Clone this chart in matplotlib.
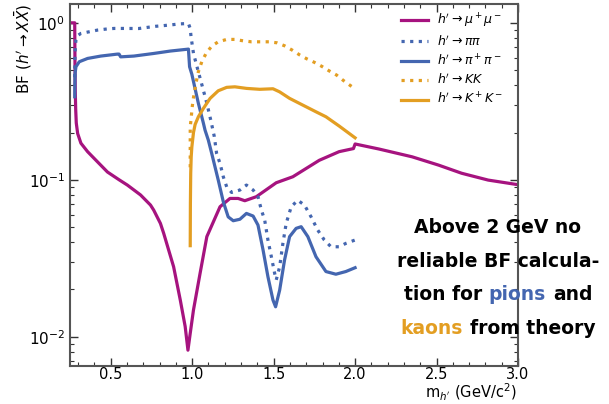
import matplotlib
matplotlib.use("Agg")
import matplotlib.pyplot as plt
from matplotlib.ticker import MultipleLocator, LogLocator
from matplotlib.offsetbox import TextArea, HPacker, VPacker, AnchoredOffsetbox

# ---- data ----
mumu_x = [0.25, 0.279, 0.2805, 0.2825, 0.285, 0.2885, 0.297, 0.317, 0.358, 0.419, 0.48, 0.551, 0.602,
          0.683, 0.744, 0.764, 0.805, 0.825, 0.886, 0.927, 0.957, 0.974, 0.988, 1.008, 1.049,
          1.09, 1.171, 1.232, 1.282, 1.323, 1.394, 1.516, 1.618, 1.78, 1.902, 1.99, 2.0,
          2.146, 2.35, 2.512, 2.654, 2.817, 3.0]
mumu_y = [1.0, 1.0, 0.55, 0.36, 0.28, 0.23, 0.197, 0.171, 0.151, 0.130, 0.112, 0.100, 0.0925,
          0.080, 0.069, 0.064, 0.0527, 0.0456, 0.0279, 0.0171, 0.0116, 0.0082, 0.0105, 0.0148, 0.0255,
          0.0434, 0.0673, 0.076, 0.076, 0.0735, 0.078, 0.0957, 0.1045, 0.133, 0.151, 0.158, 0.169,
          0.157, 0.140, 0.124, 0.110, 0.0995, 0.093]

pipi_x = [0.279, 0.2805, 0.2835, 0.2866, 0.297, 0.317, 0.368, 0.419, 0.47, 0.52, 0.571, 0.673,
          0.724, 0.774, 0.825, 0.876, 0.927, 0.977, 0.988, 0.993, 1.008, 1.035, 1.063, 1.09,
          1.114, 1.136, 1.15, 1.171, 1.191, 1.212, 1.242, 1.293, 1.333, 1.374, 1.404, 1.425,
          1.445, 1.465, 1.486, 1.506, 1.516, 1.537, 1.557, 1.577, 1.608, 1.648, 1.689, 1.73,
          1.77, 1.811, 1.852, 1.902, 1.943, 2.0]
pipi_y = [0.45, 0.62, 0.72, 0.78, 0.83, 0.856, 0.877, 0.899, 0.912, 0.921, 0.921, 0.92,
          0.935, 0.95, 0.96, 0.972, 0.985, 0.99, 0.92, 0.815, 0.638, 0.50, 0.391, 0.307,
          0.24, 0.188, 0.147, 0.127, 0.1045, 0.090, 0.083, 0.086, 0.0925, 0.086, 0.078, 0.064,
          0.0554, 0.0413, 0.0323, 0.0254, 0.023, 0.0279, 0.0394, 0.0527, 0.0673, 0.074, 0.069, 0.058,
          0.0479, 0.0413, 0.0374, 0.0374, 0.0393, 0.0413]

pipm_x = [0.279, 0.2795, 0.2815, 0.2866, 0.307, 0.358, 0.439, 0.541, 0.551, 0.561, 0.642, 0.764,
          0.866, 0.977, 0.984, 0.998, 1.038, 1.069, 1.079, 1.099, 1.12, 1.16, 1.191, 1.221,
          1.252, 1.293, 1.333, 1.374, 1.404, 1.435, 1.465, 1.496, 1.512, 1.537, 1.567, 1.598,
          1.638, 1.669, 1.71, 1.76, 1.821, 1.882, 1.943, 2.0]
pipm_y = [0.338, 0.40, 0.48, 0.525, 0.565, 0.593, 0.614, 0.632, 0.632, 0.607, 0.614, 0.638,
          0.661, 0.68, 0.525, 0.47, 0.307, 0.229, 0.207, 0.179, 0.147, 0.0995, 0.0724, 0.058,
          0.0548, 0.056, 0.061, 0.0587, 0.0514, 0.0357, 0.0241, 0.0171, 0.0155, 0.0198, 0.0308, 0.0434,
          0.049, 0.0502, 0.0434, 0.0323, 0.026, 0.025, 0.026, 0.0275]

kk_x = [0.988, 0.988, 0.988, 0.994, 0.998, 1.004, 1.012, 1.023, 1.038, 1.059, 1.085, 1.12,
        1.16, 1.212, 1.262, 1.313, 1.364, 1.415, 1.471, 1.52, 1.567, 1.614, 1.659, 1.703,
        1.75, 1.797, 1.841, 1.886, 1.927, 1.97, 2.0]
kk_y = [0.12, 0.179, 0.218, 0.246, 0.278, 0.314, 0.355, 0.411, 0.488, 0.565, 0.638, 0.711,
        0.757, 0.784, 0.784, 0.768, 0.757, 0.757, 0.757, 0.746, 0.714, 0.67, 0.625, 0.59,
        0.56, 0.527, 0.494, 0.465, 0.43, 0.399, 0.38]

kpkm_x = [0.988, 0.989, 0.991, 0.994, 0.998, 1.008, 1.018, 1.038, 1.069, 1.11, 1.16, 1.212,
          1.262, 1.334, 1.415, 1.496, 1.537, 1.598, 1.679, 1.76, 1.821, 1.902, 2.0]
kpkm_y = [0.038, 0.07, 0.11, 0.14, 0.162, 0.2, 0.225, 0.252, 0.285, 0.33, 0.369, 0.388,
          0.391, 0.382, 0.377, 0.38, 0.363, 0.33, 0.299, 0.271, 0.252, 0.22, 0.185]

labels = [r"$h'\rightarrow\mu^+\mu^-$", r"$h'\rightarrow\pi\pi$", r"$h'\rightarrow\pi^+\pi^-$",
          r"$h'\rightarrow KK$", r"$h'\rightarrow K^+K^-$"]

# ---- style ----
MAG = "#A6137F"
BLUE = "#4466B0"
ORANGE = "#E39E22"

plt.rcParams['font.family'] = ['DejaVu Sans']
plt.rcParams['mathtext.fontset'] = 'dejavusans'

fig = plt.figure(figsize=(6.09, 4.04), dpi=100)
ax = fig.add_axes([70/609, 1-366/404, 448/609, 362/404])

lw = 2.3
dots = (0, (1, 1.7))
ax.plot(mumu_x, mumu_y, color=MAG, lw=lw, label=labels[0])
ax.plot(pipi_x, pipi_y, color=BLUE, lw=lw, ls=dots, label=labels[1])
ax.plot(pipm_x, pipm_y, color=BLUE, lw=lw, label=labels[2])
ax.plot(kk_x, kk_y, color=ORANGE, lw=lw, ls=dots, label=labels[3])
ax.plot(kpkm_x, kpkm_y, color=ORANGE, lw=lw, label=labels[4])

ax.set_yscale('log')
ax.set_xlim(0.25, 3.0)
ax.set_ylim(10**-2.187, 10**0.12)

ax.xaxis.set_major_locator(MultipleLocator(0.5))
ax.xaxis.set_minor_locator(MultipleLocator(0.1))
ax.yaxis.set_major_locator(LogLocator(base=10, numticks=10))
ax.yaxis.set_minor_locator(LogLocator(base=10, subs=range(2, 10), numticks=10))
ax.tick_params(which='both', direction='in', top=True, right=True, labelsize=11, colors='#333333',
               labelcolor='black')
ax.tick_params(which='major', length=6, width=1.0)
ax.tick_params(which='minor', length=3, width=0.8)
ax.tick_params(axis='x', which='major', pad=0.5, labelsize=10.5)
for s in ax.spines.values():
    s.set_color('#555555')
    s.set_linewidth(1.5)

fig.text(517/609, 1/404, r"m$_{h'}$ (GeV/c$^2$)", fontsize=10.5, ha='right', va='bottom')
ax.set_ylabel(r"BF ($h'\rightarrow X\bar{X}$)", fontsize=11, loc='top', labelpad=-4)

leg = ax.legend(loc='upper right', bbox_to_anchor=(0.985, 1.0), frameon=False, fontsize=9,
                handlelength=2.2, labelspacing=0.35, handletextpad=0.75, borderaxespad=0.2)

# ---- annotation with coloured words ----
fs = 13.5
def ta(s, c='black'):
    return TextArea(s, textprops=dict(color=c, fontsize=fs, fontweight='bold'))

rows = [
    HPacker(children=[ta("Above 2 GeV no")], align='baseline', pad=0, sep=0),
    HPacker(children=[ta("reliable BF calcula-")], align='baseline', pad=0, sep=0),
    HPacker(children=[ta("tion for"), ta("pions", BLUE), ta("and")], align='baseline', pad=0, sep=5),
    HPacker(children=[ta("kaons", ORANGE), ta("from theory")], align='baseline', pad=0, sep=5),
]
vp = VPacker(children=rows, align='center', pad=0, sep=10.5)
ab = AnchoredOffsetbox(loc='center', child=vp, frameon=False, pad=0, borderpad=0,
                       bbox_to_anchor=(498/609, 1-278/404), bbox_transform=fig.transFigure)
fig.add_artist(ab)

fig.savefig("out.png", dpi=100)
